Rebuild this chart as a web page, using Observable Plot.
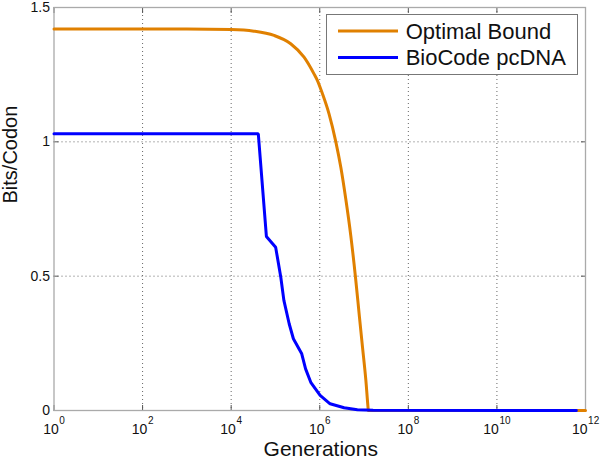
<!DOCTYPE html>
<html><head><meta charset="utf-8">
<script src="https://cdn.jsdelivr.net/npm/d3@7"></script>
<script src="https://cdn.jsdelivr.net/npm/@observablehq/plot@0.6"></script>
<style>
body{margin:0;background:#fff;}
#wrap{position:relative;width:600px;height:459px;font-family:"Liberation Sans",Arial,sans-serif;}
#legend{position:absolute;left:326px;top:14px;}
</style></head><body><div id="wrap"></div>
<script>
// Data
const optimalGen  = [1, 1e3, 1e4, 3.27e4, 9.3e4, 2.21e5, 4.42e5, 7.41e5, 8.87e5, 1.15e6, 1.62e6, 2.30e6, 2.99e6, 3.87e6, 5.01e6, 6.41e6, 7.89e6, 9.23e6, 1.1e7, 1.23e7, 1.25e7, 1e12];
const optimalBits = [1.42, 1.42, 1.418, 1.412, 1.396, 1.365, 1.315, 1.253, 1.228, 1.179, 1.104, 1.001, 0.905, 0.787, 0.652, 0.496, 0.347, 0.236, 0.112, 0.012, 0, 0];
const biocodeGen  = [1, 4.1e4, 6.24e4, 1.01e5, 1.32e5, 1.55e5, 2.04e5, 2.54e5, 3.92e5, 4.79e5, 6.27e5, 1.02e6, 1.71e6, 3.55e6, 7.08e6, 1.6e7, 6.2e11];
const biocodeBits = [1.03, 1.03, 0.648, 0.608, 0.496, 0.41, 0.323, 0.267, 0.211, 0.155, 0.105, 0.056, 0.025, 0.01, 0.003, 0.001, 0];
const seriesNames  = ["Optimal Bound", "BioCode pcDNA"];
const seriesColors = ["#e08000", "#0000ff"];
const xTicks     = [1, 1e2, 1e4, 1e6, 1e8, 1e10, 1e12];
const xTickExps  = ["0", "2", "4", "6", "8", "10", "12"];
const xGrid      = [1e2, 1e4, 1e6, 1e8, 1e10];
const yTicks      = [0, 0.5, 1, 1.5];
const yTickLabels = ["0", "0.5", "1", "1.5"];
const yGrid       = [0.5, 1];

const optimal = optimalGen.map((g, i) => ({g, v: optimalBits[i]}));
const biocode = biocodeGen.map((g, i) => ({g, v: biocodeBits[i]}));
const ticks = xTicks.map((v, i) => ({v, e: xTickExps[i]}));
const single = ticks.filter(t => t.e.length === 1);
const double = ticks.filter(t => t.e.length === 2);

const font = "Liberation Sans, Arial, sans-serif";
const gridStyle = {stroke: "#666", strokeOpacity: 1, strokeWidth: 1, strokeDasharray: "1,3"};
const tickStyle = {tickSize: 5, text: null, label: null, stroke: "#555", strokeOpacity: 1};

const chart = Plot.plot({
  width: 600, height: 459,
  marginLeft: 53.5, marginRight: 15, marginTop: 7, marginBottom: 49,
  x: {type: "log", domain: [1, 1e12]},
  y: {domain: [0, 1.5]},
  style: {fontFamily: font, background: "#fff", color: "#111"},
  marks: [
    Plot.gridX(xGrid, gridStyle),
    Plot.gridY(yGrid, gridStyle),
    Plot.axisX(xTicks, {anchor: "bottom", dy: -5, ...tickStyle}),
    Plot.axisX(xTicks, {anchor: "top", dy: 5, ...tickStyle}),
    Plot.axisY(yTicks, {anchor: "left", dx: 5, ...tickStyle}),
    Plot.axisY(yTicks, {anchor: "right", dx: -5, ...tickStyle}),
    Plot.axisY(yTicks, {anchor: "left", tickSize: 0, tickPadding: 4, label: null, fontSize: 14,
      tickFormat: d => yTickLabels[yTicks.indexOf(d)]}),
    Plot.text(single, {x: "v", frameAnchor: "bottom", text: () => "10", textAnchor: "end", lineAnchor: "bottom", dx: 4.75, dy: 23, fontSize: 14}),
    Plot.text(single, {x: "v", frameAnchor: "bottom", text: "e", textAnchor: "start", lineAnchor: "bottom", dx: 5.3, dy: 13.5, fontSize: 10}),
    Plot.text(double, {x: "v", frameAnchor: "bottom", text: () => "10", textAnchor: "end", lineAnchor: "bottom", dx: 2, dy: 23, fontSize: 14}),
    Plot.text(double, {x: "v", frameAnchor: "bottom", text: "e", textAnchor: "start", lineAnchor: "bottom", dx: 2.6, dy: 13.5, fontSize: 10}),
    Plot.frame({stroke: "#aaa", strokeWidth: 1.3}),
    Plot.line(optimal, {x: "g", y: "v", stroke: seriesColors[0], strokeWidth: 3, curve: "monotone-x"}),
    Plot.line(biocode, {x: "g", y: "v", stroke: seriesColors[1], strokeWidth: 3, strokeLinejoin: "miter"}),
    Plot.text(["Generations"], {frameAnchor: "bottom", lineAnchor: "bottom", dx: 1, dy: 45, fontSize: 21}),
    Plot.text(["Bits/Codon"], {frameAnchor: "left", rotate: -90, dx: -43, dy: -5.5, fontSize: 20})
  ]
});
const wrap = document.getElementById("wrap");
wrap.appendChild(chart);

// Legend (HTML overlay)
const ns = "http://www.w3.org/2000/svg";
const lg = document.createElementNS(ns, "svg");
lg.setAttribute("id", "legend");
lg.setAttribute("width", 253); lg.setAttribute("height", 61);
const rect = document.createElementNS(ns, "rect");
Object.entries({x: 0.5, y: 0.5, width: 251, height: 60, fill: "#fff", stroke: "#777", "stroke-width": 1}).forEach(([k, v]) => rect.setAttribute(k, v));
lg.appendChild(rect);
seriesNames.forEach((name, i) => {
  const yLine = 17 + i * 26.5;
  const ln = document.createElementNS(ns, "line");
  Object.entries({x1: 12, x2: 72, y1: yLine, y2: yLine, stroke: seriesColors[i], "stroke-width": 3}).forEach(([k, v]) => ln.setAttribute(k, v));
  lg.appendChild(ln);
  const tx = document.createElementNS(ns, "text");
  Object.entries({x: 79.7, y: 25.3 + i * 25.7, "font-size": 22, "font-family": font, fill: "#111"}).forEach(([k, v]) => tx.setAttribute(k, v));
  tx.textContent = name;
  lg.appendChild(tx);
});
wrap.appendChild(lg);
</script></body></html>
